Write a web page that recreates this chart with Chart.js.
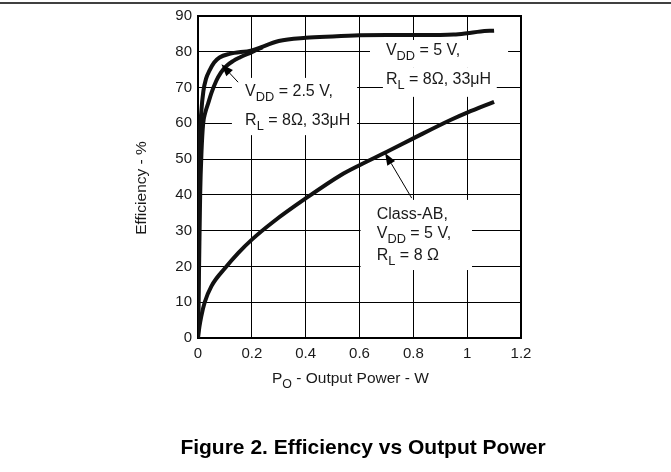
<!DOCTYPE html>
<html>
<head>
<meta charset="utf-8">
<script src="https://cdn.jsdelivr.net/npm/chart.js@4"></script>
<style>
  html, body { margin: 0; padding: 0; background: #fff; }
  canvas { display: block; }
</style>
</head>
<body>
<canvas id="chart" width="671" height="472"></canvas>
<script>
// Datos (W, %)
const xTickLabels = ['0', '0.2', '0.4', '0.6', '0.8', '1', '1.2'];
const yTickLabels = ['0', '10', '20', '30', '40', '50', '60', '70', '80', '90'];

// Clase D, VDD = 5 V
const vdd5Power = [0, 0.002, 0.004, 0.007, 0.012, 0.02, 0.03, 0.043, 0.06, 0.08, 0.117, 0.2, 0.3, 0.4, 0.5, 0.6, 0.7, 0.8, 0.9, 0.95, 1.0, 1.05, 1.1];
const vdd5Eff = [0, 20, 40, 56, 63, 69, 72.5, 74.8, 77, 78.4, 79.4, 80.4, 83, 83.9, 84.3, 84.6, 84.7, 84.7, 84.7, 84.8, 85.2, 85.7, 85.9];

// Clase D, VDD = 2.5 V
const vdd25Power = [0, 0.004, 0.008, 0.013, 0.019, 0.027, 0.037, 0.05, 0.068, 0.085, 0.105, 0.13, 0.155, 0.2, 0.24];
const vdd25Eff = [0, 20, 40, 52, 59.8, 63, 65.4, 68.5, 71.9, 74.2, 76, 77.4, 78.4, 79.9, 81.3];

// Clase AB, VDD = 5 V
const abPower = [0, 0.005, 0.012, 0.025, 0.05, 0.1, 0.15, 0.2, 0.28, 0.4, 0.53, 0.6, 0.7, 0.8, 0.94, 1.0, 1.1];
const abEff = [0, 3, 6, 10, 14.5, 19.5, 23.8, 27.5, 32.5, 39, 45.5, 48.3, 52, 55.8, 61, 63, 66];

const FONT = '"Liberation Sans", Arial, sans-serif';

// Recuadros blancos detras de las anotaciones (en unidades de datos)
const labelBoxes = [
    [0.639, 1.152, 75.5, 83.3],
    [0.687, 1.110, 67.4, 75.5],
    [0.126, 0.591, 56.7, 72.7],
    [0.604, 1.018, 19.0, 38.6]
];

// Textos de las anotaciones: posicion (izquierda, linea base) en unidades de datos
const labelLines = [
    { x: 0.698, y: 79.1, parts: [['V'], ['DD', 1], [' = 5 V,']] },
    { x: 0.698, y: 71.0, parts: [['R'], ['L', 1], [' = 8\u03A9, 33\u03BCH']] },
    { x: 0.175, y: 67.6, parts: [['V'], ['DD', 1], [' = 2.5 V,']] },
    { x: 0.175, y: 59.5, parts: [['R'], ['L', 1], [' = 8\u03A9, 33\u03BCH']] },
    { x: 0.664, y: 33.2, parts: [['Class-AB,']] },
    { x: 0.664, y: 27.9, parts: [['V'], ['DD', 1], [' = 5 V,']] },
    { x: 0.664, y: 21.8, parts: [['R'], ['L', 1], [' = 8 \u03A9']] }
];

// Flechas: desde (x1, y1) hasta la punta (x2, y2)
const arrows = [
    [0.149, 71.5, 0.087, 76.5],
    [0.794, 39.1, 0.695, 51.7]
];

function drawRich(ctx, parts, x, y, size) {
    let cx = x;
    parts.forEach(p => {
        const sub = p[1] === 1;
        const fs = sub ? size * 0.8 : size;
        ctx.font = `${fs}px ${FONT}`;
        ctx.fillText(p[0], cx, sub ? y + size * 0.32 : y);
        cx += ctx.measureText(p[0]).width;
    });
    return cx - x;
}

const overlay = {
    id: 'overlay',
    beforeDatasetsDraw(chart) {
        const ctx = chart.ctx;
        const xs = chart.scales.x, ys = chart.scales.y;
        const a = chart.chartArea;
        ctx.save();
        ctx.fillStyle = '#fff';
        labelBoxes.forEach(b => {
            const x0 = xs.getPixelForValue(b[0]), x1 = xs.getPixelForValue(b[1]);
            const y0 = ys.getPixelForValue(b[3]), y1 = ys.getPixelForValue(b[2]);
            ctx.fillRect(x0, y0, x1 - x0, y1 - y0);
        });
        // marco del grafico
        ctx.strokeStyle = '#000';
        ctx.lineWidth = 2;
        ctx.strokeRect(a.left, a.top, a.right - a.left, a.bottom - a.top);
        ctx.restore();
    },
    afterDatasetsDraw(chart) {
        const ctx = chart.ctx;
        const xs = chart.scales.x, ys = chart.scales.y;
        ctx.save();
        ctx.fillStyle = '#1a1a1a';
        ctx.textBaseline = 'alphabetic';
        ctx.textAlign = 'left';
        labelLines.forEach(l => {
            drawRich(ctx, l.parts, xs.getPixelForValue(l.x), ys.getPixelForValue(l.y), 16);
        });

        ctx.strokeStyle = '#000';
        ctx.fillStyle = '#000';
        ctx.lineWidth = 1;
        arrows.forEach(ar => {
            const x1 = xs.getPixelForValue(ar[0]), y1 = ys.getPixelForValue(ar[1]);
            const x2 = xs.getPixelForValue(ar[2]), y2 = ys.getPixelForValue(ar[3]);
            const ang = Math.atan2(y2 - y1, x2 - x1);
            const len = 12, half = 4.5;
            const bx = x2 - len * Math.cos(ang), by = y2 - len * Math.sin(ang);
            ctx.beginPath();
            ctx.moveTo(x1, y1);
            ctx.lineTo(bx, by);
            ctx.stroke();
            ctx.beginPath();
            ctx.moveTo(x2, y2);
            ctx.lineTo(bx + half * Math.sin(ang), by - half * Math.cos(ang));
            ctx.lineTo(bx - half * Math.sin(ang), by + half * Math.cos(ang));
            ctx.closePath();
            ctx.fill();
        });
        ctx.restore();
    },
    afterDraw(chart) {
        const ctx = chart.ctx;
        ctx.save();
        // linea superior de la pagina
        ctx.strokeStyle = '#000';
        ctx.lineWidth = 1.5;
        ctx.beginPath();
        ctx.moveTo(0, 3);
        ctx.lineTo(chart.width, 3);
        ctx.stroke();

        ctx.fillStyle = '#1a1a1a';
        ctx.textBaseline = 'alphabetic';
        // titulo eje x
        drawRich(ctx, [['P'], ['O', 1], [' - Output Power - W']], 272, 383, 15.5);

        // titulo eje y
        ctx.save();
        ctx.translate(146, 188);
        ctx.rotate(-Math.PI / 2);
        ctx.textAlign = 'center';
        ctx.font = `15.5px ${FONT}`;
        ctx.fillText('Efficiency - %', 0, 0);
        ctx.restore();

        // titulo de la figura
        ctx.textAlign = 'center';
        ctx.fillStyle = '#000';
        ctx.font = `bold 21px ${FONT}`;
        ctx.fillText('Figure 2. Efficiency vs Output Power', 363, 454);
        ctx.restore();
    }
};

document.addEventListener('DOMContentLoaded', () => {
    const toPoints = (xs, ys) => xs.map((x, i) => ({ x: x, y: ys[i] }));
    const curve = {
        showLine: true,
        borderColor: '#111',
        borderWidth: 4,
        pointRadius: 0,
        cubicInterpolationMode: 'monotone',
        fill: false
    };

    const ctx = document.getElementById('chart').getContext('2d');
    new Chart(ctx, {
        type: 'scatter',
        data: {
            datasets: [
                Object.assign({ label: 'VDD = 5 V', data: toPoints(vdd5Power, vdd5Eff) }, curve),
                Object.assign({ label: 'VDD = 2.5 V', data: toPoints(vdd25Power, vdd25Eff) }, curve),
                Object.assign({ label: 'Class-AB', data: toPoints(abPower, abEff) }, curve)
            ]
        },
        options: {
            responsive: false,
            animation: false,
            layout: { padding: { left: 0, top: 16, right: 150, bottom: 94 } },
            plugins: {
                legend: { display: false },
                tooltip: { enabled: false }
            },
            scales: {
                x: {
                    type: 'linear',
                    min: 0,
                    max: 1.2,
                    ticks: {
                        stepSize: 0.2,
                        padding: 7,
                        color: '#1a1a1a',
                        font: { family: FONT, size: 15 },
                        callback: (v, i) => xTickLabels[i]
                    },
                    grid: { color: '#000', lineWidth: 1, drawTicks: false },
                    border: { display: false },
                    afterFit: s => { s.height = 40; }
                },
                y: {
                    min: 0,
                    max: 90,
                    ticks: {
                        stepSize: 10,
                        padding: 6,
                        color: '#1a1a1a',
                        font: { family: FONT, size: 15 },
                        callback: (v, i) => yTickLabels[i]
                    },
                    grid: { color: '#000', lineWidth: 1, drawTicks: false },
                    border: { display: false },
                    afterFit: s => { s.width = 198; }
                }
            }
        },
        plugins: [overlay]
    });
});
</script>
</body>
</html>
